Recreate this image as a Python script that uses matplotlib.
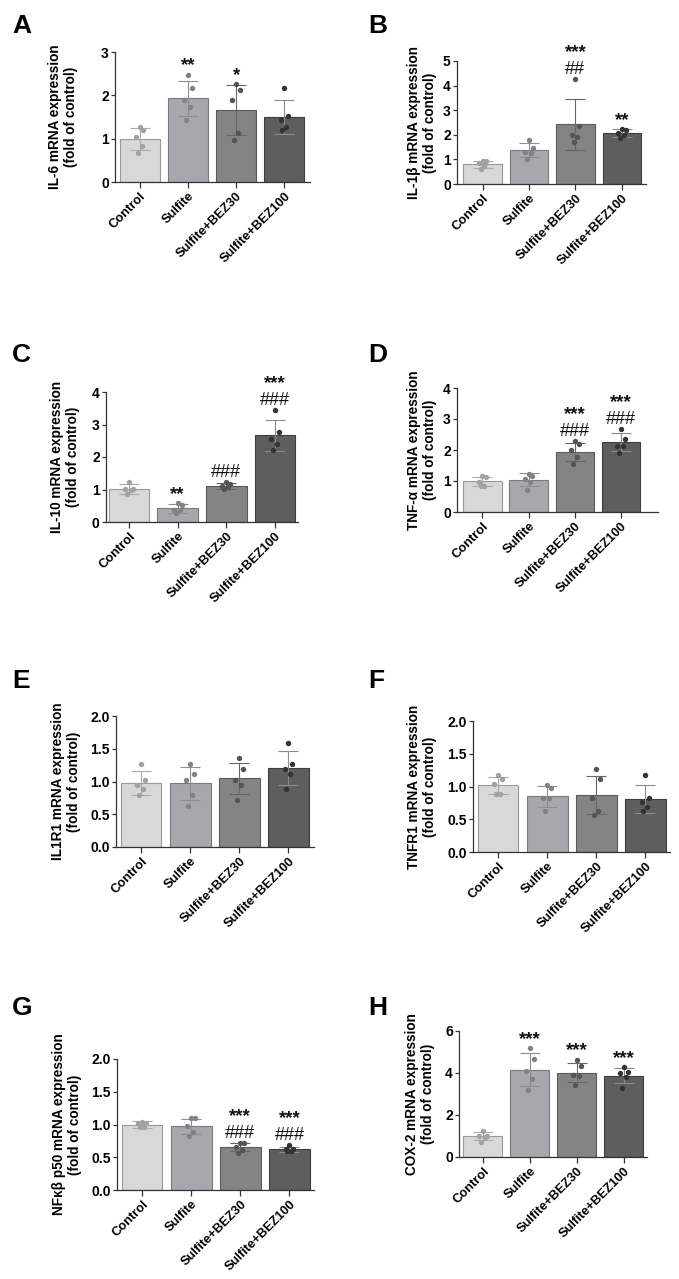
import matplotlib
matplotlib.use("Agg")
import matplotlib.pyplot as plt
import numpy as np

plt.rcParams['font.family'] = ['Liberation Sans', 'DejaVu Sans']
plt.rcParams['font.weight'] = 'bold'

# ---------------- data ----------------
groups = ['Control', 'Sulfite', 'Sulfite+BEZ30', 'Sulfite+BEZ100']

il6_mean = [1.00, 1.93, 1.67, 1.50]
il6_sd = [0.25, 0.41, 0.58, 0.40]
il6_pts = [[1.28, 1.21, 1.05, 0.84, 0.68], [2.48, 2.18, 1.90, 1.72, 1.43],
           [2.26, 2.12, 1.89, 1.12, 0.98], [2.18, 1.52, 1.42, 1.28, 1.20]]
il6_star = ['', '**', '*', '']
il6_hash = ['', '', '', '']

il1b_mean = [0.81, 1.38, 2.43, 2.07]
il1b_sd = [0.14, 0.28, 1.03, 0.15]
il1b_pts = [[0.92, 0.92, 0.86, 0.72, 0.62], [1.80, 1.45, 1.32, 1.28, 1.03],
            [4.26, 2.34, 1.99, 1.93, 1.72], [2.23, 2.20, 2.07, 2.00, 1.86]]
il1b_star = ['', '', '***', '**']
il1b_hash = ['', '', '##', '']

il10_mean = [1.02, 0.42, 1.11, 2.67]
il10_sd = [0.15, 0.13, 0.09, 0.48]
il10_pts = [[1.23, 1.02, 1.01, 1.00, 0.87], [0.57, 0.51, 0.38, 0.38, 0.28],
            [1.24, 1.18, 1.12, 1.09, 1.02], [3.45, 2.77, 2.55, 2.40, 2.21]]
il10_star = ['', '**', '', '***']
il10_hash = ['', '', '###', '###']

tnfa_mean = [0.99, 1.04, 1.92, 2.25]
tnfa_sd = [0.15, 0.21, 0.29, 0.29]
tnfa_pts = [[1.17, 1.14, 0.98, 0.85, 0.85], [1.24, 1.17, 1.08, 0.96, 0.70],
            [2.28, 2.18, 1.99, 1.76, 1.55], [2.69, 2.37, 2.14, 2.14, 1.89]]
tnfa_star = ['', '', '***', '***']
tnfa_hash = ['', '', '###', '###']

il1r1_mean = [0.98, 0.97, 1.05, 1.21]
il1r1_sd = [0.18, 0.25, 0.24, 0.26]
il1r1_pts = [[1.27, 1.03, 0.95, 0.88, 0.80], [1.27, 1.11, 1.03, 0.80, 0.63],
             [1.36, 1.19, 1.03, 0.95, 0.72], [1.59, 1.27, 1.19, 1.11, 0.88]]
il1r1_star = ['', '', '', '']
il1r1_hash = ['', '', '', '']

tnfr1_mean = [1.02, 0.85, 0.87, 0.81]
tnfr1_sd = [0.13, 0.16, 0.29, 0.21]
tnfr1_pts = [[1.17, 1.11, 1.04, 0.89, 0.89], [1.03, 0.97, 0.83, 0.83, 0.62],
             [1.26, 1.11, 0.83, 0.62, 0.56], [1.18, 0.83, 0.76, 0.69, 0.62]]
tnfr1_star = ['', '', '', '']
tnfr1_hash = ['', '', '', '']

nfkb_mean = [1.00, 0.97, 0.65, 0.62]
nfkb_sd = [0.05, 0.12, 0.06, 0.04]
nfkb_pts = [[1.04, 1.02, 1.02, 0.96, 0.96], [1.10, 1.10, 0.98, 0.88, 0.82],
            [0.71, 0.71, 0.66, 0.61, 0.56], [0.68, 0.63, 0.63, 0.60, 0.60]]
nfkb_star = ['', '', '***', '***']
nfkb_hash = ['', '', '###', '###']

cox2_mean = [1.00, 4.16, 4.02, 3.88]
cox2_sd = [0.20, 0.78, 0.46, 0.37]
cox2_pts = [[1.24, 1.00, 1.00, 0.96, 0.73], [5.18, 4.69, 4.10, 3.73, 3.19],
            [4.64, 4.31, 3.92, 3.84, 3.44], [4.27, 4.07, 3.99, 3.83, 3.27]]
cox2_star = ['', '***', '***', '***']
cox2_hash = ['', '', '', '']

ylabels = ['IL-6 mRNA expression\n(fold of control)',
           'IL-1\u03b2 mRNA expression\n(fold of control)',
           'IL-10 mRNA expression\n(fold of control)',
           'TNF-\u03b1 mRNA expression\n(fold of control)',
           'IL1R1 mRNA expression\n(fold of control)',
           'TNFR1 mRNA expression\n(fold of control)',
           'NF\u03ba\u03b2 p50 mRNA expression\n(fold of control)',
           'COX-2 mRNA expression\n(fold of control)']
letters = ['A', 'B', 'C', 'D', 'E', 'F', 'G', 'H']
yticks_list = [[0, 1, 2, 3], [0, 1, 2, 3, 4, 5], [0, 1, 2, 3, 4], [0, 1, 2, 3, 4],
               [0, 0.5, 1.0, 1.5, 2.0], [0, 0.5, 1.0, 1.5, 2.0],
               [0, 0.5, 1.0, 1.5, 2.0], [0, 2, 4, 6]]

datasets = [
    (il6_mean, il6_sd, il6_pts, il6_star, il6_hash),
    (il1b_mean, il1b_sd, il1b_pts, il1b_star, il1b_hash),
    (il10_mean, il10_sd, il10_pts, il10_star, il10_hash),
    (tnfa_mean, tnfa_sd, tnfa_pts, tnfa_star, tnfa_hash),
    (il1r1_mean, il1r1_sd, il1r1_pts, il1r1_star, il1r1_hash),
    (tnfr1_mean, tnfr1_sd, tnfr1_pts, tnfr1_star, tnfr1_hash),
    (nfkb_mean, nfkb_sd, nfkb_pts, nfkb_star, nfkb_hash),
    (cox2_mean, cox2_sd, cox2_pts, cox2_star, cox2_hash),
]

# ---------------- layout (pixels) ----------------
W, H = 679, 1279
# left, top(y max), right, bottom(y=0)
rects = [(115, 52, 310, 182), (457, 61, 646, 184),
         (106, 392, 298, 522), (457, 388, 658, 512),
         (116, 716, 314, 847), (473, 721, 670, 852),
         (117, 1059, 314, 1190), (459, 1031, 647, 1157)]
xlims = [(-0.51, 3.53), (-0.55, 3.52), (-0.47, 3.47), (-0.55, 3.8),
         (-0.51, 3.52), (-0.51, 3.5), (-0.51, 3.5), (-0.51, 3.49)]
ylabel_x = [63, 422, 65, 422, 66, 422, 67, 420]
letter_pos = [(12, 33), (368, 33), (12, 362), (368, 362),
              (12, 688), (368, 688), (12, 1015), (368, 1015)]

bar_colors = ['#d8d8d8', '#a7a7ac', '#848484', '#5e5e5e']
edge_colors = ['#9a9a9a', '#7a7a7e', '#5a5a5a', '#3e3e3e']
pt_colors = ['#a2a2a2', '#828282', '#555555', '#333333']
err_colors = ['#ababab', '#8e8e8e', '#666666', '#8a8a8a']
jitter = [0.0, 0.08, -0.08, 0.04, -0.04]

fig = plt.figure(figsize=(W / 100, H / 100), dpi=100)
px2pt = 0.72

for i, (mean, sd, pts, star, hsh) in enumerate(datasets):
    l, t, r, b = rects[i]
    ax = fig.add_axes([l / W, 1 - b / H, (r - l) / W, (b - t) / H])
    x = np.arange(len(groups))
    ax.bar(x, mean, width=0.83, color=bar_colors, edgecolor=edge_colors,
           linewidth=0.8, zorder=1)
    for j in range(len(groups)):
        ax.errorbar(x[j], mean[j], yerr=sd[j], fmt='none', ecolor=err_colors[j],
                    elinewidth=0.8, capsize=7, capthick=0.8, zorder=2)
        p = pts[j]
        ax.scatter(x[j] + np.array(jitter[:len(p)]), p, s=15, color=pt_colors[j],
                   zorder=3, linewidths=0)
        top = max(mean[j] + sd[j], max(p))
        if hsh[j]:
            ax.annotate(hsh[j], (x[j], top), xytext=(0, 5 * px2pt),
                        textcoords='offset points', ha='center', va='baseline',
                        fontsize=13, fontweight='normal', color='#111111',
                        annotation_clip=False)
            if star[j]:
                ax.annotate(star[j], (x[j], top), xytext=(0, 22 * px2pt),
                            textcoords='offset points', ha='center', va='baseline',
                            fontsize=13.5, fontweight='bold', color='#111111',
                            annotation_clip=False)
        elif star[j]:
            ax.annotate(star[j], (x[j], top), xytext=(0, 4 * px2pt),
                        textcoords='offset points', ha='center', va='baseline',
                        fontsize=13.5, fontweight='bold', color='#111111',
                        annotation_clip=False)
    yt = yticks_list[i]
    ax.set_ylim(0, yt[-1])
    ax.set_yticks(yt)
    if isinstance(yt[1], float):
        ax.set_yticklabels(['%.1f' % v for v in yt])
    ax.set_xlim(*xlims[i])
    ax.set_xticks(x)
    ax.set_xticklabels(groups, rotation=45, ha='right', va='top',
                       rotation_mode='anchor')
    for s in ['top', 'right']:
        ax.spines[s].set_visible(False)
    for s in ['left', 'bottom']:
        ax.spines[s].set_linewidth(0.9)
        ax.spines[s].set_color('#333333')
    ax.tick_params(axis='y', length=3, width=0.9, color='#333333', labelsize=10,
                   pad=1.5)
    ax.tick_params(axis='x', length=4, width=0.9, color='#333333', labelsize=9.3,
                   pad=2)
    for lab in ax.get_xticklabels() + ax.get_yticklabels():
        lab.set_fontweight('bold')
    fig.text(ylabel_x[i] / W, 1 - ((t + b) / 2) / H, ylabels[i], rotation=90,
             ha='center', va='center', multialignment='center', fontsize=9.8,
             fontweight='bold')
    lx, ly = letter_pos[i]
    fig.text(lx / W, 1 - ly / H, letters[i], ha='left', va='baseline',
             fontsize=19, fontweight='bold')

fig.savefig('out.png', dpi=100, facecolor='white')
